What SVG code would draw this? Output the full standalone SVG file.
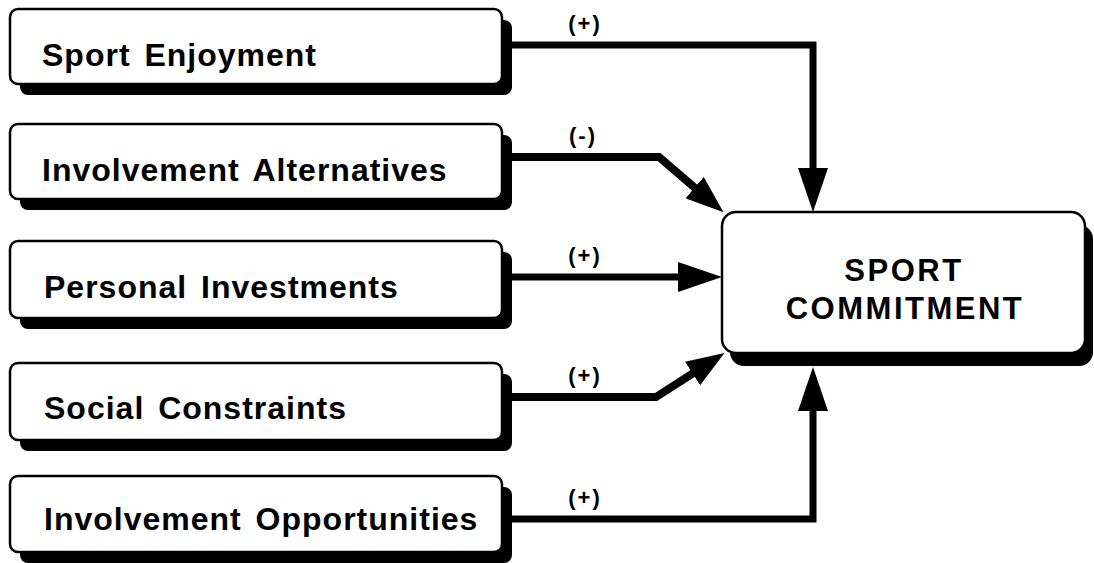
<svg xmlns="http://www.w3.org/2000/svg" width="1094" height="563" viewBox="0 0 1094 563">
  <style>
    .box { fill: #ffffff; stroke: #000000; stroke-width: 2.5; }
    .shadow { fill: #000000; }
    .label { font-family: "Liberation Sans", Arial, Helvetica, sans-serif; font-weight: bold; font-size: 32px; letter-spacing: 1px; word-spacing: 4px; fill: #000000; }
    .title { font-family: "Liberation Sans", Arial, Helvetica, sans-serif; font-weight: bold; font-size: 31px; letter-spacing: 2.5px; fill: #000000; text-anchor: middle; }
    .sign { font-family: "Liberation Sans", Arial, Helvetica, sans-serif; font-weight: bold; font-size: 22px; letter-spacing: 2px; fill: #000000; text-anchor: middle; }
    .link { fill: none; stroke: #000000; stroke-width: 7; stroke-linejoin: miter; stroke-linecap: butt; }
    .slant { stroke-width: 8; }
  </style>
  <defs>
    <!-- straight runs: long head -->
    <marker id="head" markerUnits="userSpaceOnUse" markerWidth="44" markerHeight="30" refX="4" refY="15" orient="auto" viewBox="0 0 44 30">
      <path d="M0,0 L44,15 L0,30 Z" fill="#000000"/>
    </marker>
    <!-- slanted runs: shorter head -->
    <marker id="head-short" markerUnits="userSpaceOnUse" markerWidth="38" markerHeight="28" refX="4" refY="14" orient="auto" viewBox="0 0 38 28">
      <path d="M0,0 L38,14 L0,28 Z" fill="#000000"/>
    </marker>
  </defs>

  <rect width="1094" height="563" fill="#ffffff"/>

  <!-- determinant boxes -->
  <g id="sport-enjoyment">
    <rect class="shadow" x="20" y="20" width="492" height="75" rx="8"/>
    <rect class="box" x="10" y="9" width="492" height="75" rx="8"/>
    <text class="label" x="42" y="66">Sport Enjoyment</text>
  </g>
  <g id="involvement-alternatives">
    <rect class="shadow" x="20" y="135" width="492" height="75" rx="8"/>
    <rect class="box" x="10" y="124" width="492" height="75" rx="8"/>
    <text class="label" x="42" y="181">Involvement Alternatives</text>
  </g>
  <g id="personal-investments">
    <rect class="shadow" x="20" y="252" width="492" height="77" rx="8"/>
    <rect class="box" x="10" y="241" width="492" height="77" rx="8"/>
    <text class="label" x="44" y="298">Personal Investments</text>
  </g>
  <g id="social-constraints">
    <rect class="shadow" x="20" y="374" width="492" height="77" rx="8"/>
    <rect class="box" x="10" y="363" width="492" height="77" rx="8"/>
    <text class="label" x="44" y="419">Social Constraints</text>
  </g>
  <g id="involvement-opportunities">
    <rect class="shadow" x="20" y="487" width="492" height="76" rx="8"/>
    <rect class="box" x="10" y="476" width="492" height="76" rx="8"/>
    <text class="label" x="44" y="530">Involvement Opportunities</text>
  </g>

  <!-- outcome box -->
  <g id="sport-commitment">
    <rect class="shadow" x="730" y="225" width="363" height="141" rx="14"/>
    <rect class="box" x="722" y="212" width="363" height="141" rx="14"/>
    <text class="title" x="904" y="281">SPORT</text>
    <text class="title" x="905" y="319">COMMITMENT</text>
  </g>

  <!-- paths with their signs -->
  <g id="connectors">
    <path class="link" d="M512,45 H813 V172" marker-end="url(#head)"/>
    <path class="link slant" d="M512,157 H659 L697.7,190.2" marker-end="url(#head-short)"/>
    <path class="link" d="M512,277 H682" marker-end="url(#head)"/>
    <path class="link slant" d="M512,397 H656 L695.9,371.3" marker-end="url(#head-short)"/>
    <path class="link" d="M512,519 H813 V407" marker-end="url(#head)"/>
    <text class="sign" x="585" y="31">(+)</text>
    <text class="sign" x="583" y="143">(-)</text>
    <text class="sign" x="585" y="263">(+)</text>
    <text class="sign" x="585" y="383">(+)</text>
    <text class="sign" x="585" y="505">(+)</text>
  </g>
</svg>
